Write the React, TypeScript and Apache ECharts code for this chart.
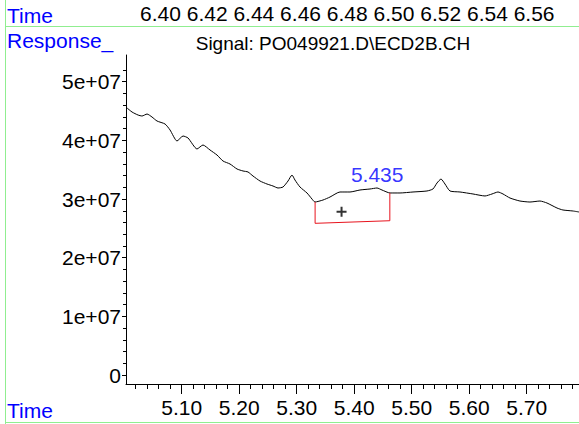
import React, { useEffect, useRef } from "react";
import * as echarts from "echarts";

// Signal trace (retention time in min, response)
const retentionTimes = [
  5.0049, 5.0136, 5.024, 5.031, 5.0397, 5.0483, 5.057, 5.071, 5.0797, 5.0918,
  5.1023, 5.111, 5.1266, 5.137, 5.1492, 5.1614, 5.1718, 5.184, 5.1962, 5.2066,
  5.2153, 5.224, 5.2362, 5.2483, 5.2588, 5.2675, 5.2762, 5.2849, 5.2918, 5.297,
  5.3057, 5.3179, 5.3266, 5.3318, 5.3457, 5.3579, 5.3753, 5.3927, 5.4101, 5.4275,
  5.4397, 5.4483, 5.4623, 5.4797, 5.5023, 5.5266, 5.537, 5.544, 5.551, 5.5579,
  5.5666, 5.584, 5.6066, 5.6275, 5.6397, 5.6501, 5.6588, 5.671, 5.6883, 5.7057,
  5.7231, 5.7353, 5.7527, 5.7631, 5.7805, 5.791,
];
const responses = [
  4.552e7, 4.483e7, 4.432e7, 4.415e7, 4.449e7, 4.398e7, 4.33e7, 4.279e7, 4.177e7, 3.989e7,
  4.074e7, 4.04e7, 3.853e7, 3.921e7, 3.836e7, 3.75e7, 3.648e7, 3.597e7, 3.512e7, 3.478e7,
  3.461e7, 3.392e7, 3.307e7, 3.256e7, 3.222e7, 3.188e7, 3.205e7, 3.307e7, 3.409e7, 3.324e7,
  3.205e7, 3.103e7, 3.0e7, 2.949e7, 2.983e7, 3.034e7, 3.12e7, 3.12e7, 3.154e7, 3.171e7,
  3.188e7, 3.154e7, 3.103e7, 3.103e7, 3.12e7, 3.137e7, 3.171e7, 3.273e7, 3.341e7, 3.256e7,
  3.137e7, 3.12e7, 3.086e7, 3.052e7, 3.086e7, 3.12e7, 3.086e7, 3.017e7, 2.966e7, 2.949e7,
  2.966e7, 2.932e7, 2.847e7, 2.813e7, 2.796e7, 2.779e7,
];

// Integration baseline box
const baselineTimes = [5.332, 5.332, 5.462, 5.462];
const baselineValues = [2.949e7, 2.586e7, 2.63e7, 3.103e7];

// Peak annotation
const peakLabel = ["5.435"];
const peakLabelTime = [5.44];
const peakLabelValue = [3.41e7];
const crossTime = [5.378];
const crossValue = [2.784e7];

// Axis ticks
const yMajorTicks = [0, 1e7, 2e7, 3e7, 4e7, 5e7];
const yMinorTicks = [
  0, 2e6, 4e6, 6e6, 8e6, 1e7, 1.2e7, 1.4e7, 1.6e7, 1.8e7, 2e7, 2.2e7, 2.4e7, 2.6e7,
  2.8e7, 3e7, 3.2e7, 3.4e7, 3.6e7, 3.8e7, 4e7, 4.2e7, 4.4e7, 4.6e7, 4.8e7, 5e7, 5.2e7,
];
const xMajorTicks = [5.1, 5.2, 5.3, 5.4, 5.5, 5.6, 5.7];
const xMinorTicks = [
  5.02, 5.04, 5.06, 5.08, 5.1, 5.12, 5.14, 5.16, 5.18, 5.2, 5.22, 5.24, 5.26, 5.28,
  5.3, 5.32, 5.34, 5.36, 5.38, 5.4, 5.42, 5.44, 5.46, 5.48, 5.5, 5.52, 5.54, 5.56,
  5.58, 5.6, 5.62, 5.64, 5.66, 5.68, 5.7, 5.72, 5.74, 5.76, 5.78,
];
const topTimeLabels = ["6.40", "6.42", "6.44", "6.46", "6.48", "6.50", "6.52", "6.54", "6.56"];
const signalTitle = "Signal: PO049921.D\\ECD2B.CH";

const FONT = '"Liberation Sans", Arial, Helvetica, sans-serif';
const BLUE = "#0000ff";
const GREEN = "#90ee90";

export default function App() {
  const ref = useRef<HTMLDivElement>(null);

  useEffect(() => {
    if (!ref.current) return;
    const chart = echarts.init(ref.current, undefined, { renderer: "svg" });

    const yMin = -1.53e6;
    const yMax = 5.455e7;
    const xMin = 5.0031;
    const xMax = 5.791;

    const commonX = { type: "value", min: xMin, max: xMax, position: "bottom", splitLine: { show: false } };
    const commonY = { type: "value", min: yMin, max: yMax, position: "left", splitLine: { show: false } };

    chart.setOption({
      animation: false,
      grid: { left: 126, top: 55, right: 0, bottom: 40, containLabel: false },
      xAxis: [
        {
          ...commonX,
          axisLine: { show: true, onZero: false, lineStyle: { color: "#000", width: 1 } },
          axisTick: { show: true, customValues: xMajorTicks, length: 10, lineStyle: { color: "#000" } },
          axisLabel: {
            show: true,
            customValues: xMajorTicks,
            formatter: (v: number) => v.toFixed(2),
            color: "#000",
            fontSize: 21,
            fontFamily: FONT,
            margin: 13,
          },
        },
        {
          ...commonX,
          axisLine: { show: false, onZero: false },
          axisTick: { show: true, customValues: xMinorTicks, length: 5, lineStyle: { color: "#000" } },
          axisLabel: { show: false },
        },
      ],
      yAxis: [
        {
          ...commonY,
          axisLine: { show: true, onZero: false, lineStyle: { color: "#000", width: 1 } },
          axisTick: { show: true, customValues: yMajorTicks, length: 4, lineStyle: { color: "#000" } },
          axisLabel: {
            show: true,
            customValues: yMajorTicks,
            formatter: (v: number) => (v === 0 ? "0" : `${Math.round(v / 1e7)}e+07`),
            color: "#000",
            fontSize: 21,
            fontFamily: FONT,
            margin: 5,
          },
        },
        {
          ...commonY,
          axisLine: { show: false, onZero: false },
          axisTick: { show: true, customValues: yMinorTicks, length: 3, lineStyle: { color: "#000" } },
          axisLabel: { show: false },
        },
      ],
      series: [
        {
          type: "line",
          silent: true,
          xAxisIndex: 0,
          yAxisIndex: 0,
          data: retentionTimes.map((t, i) => [t, responses[i]]),
          showSymbol: false,
          symbol: "none",
          smooth: 0.2,
          lineStyle: { color: "#000", width: 1 },
        },
        {
          type: "line",
          silent: true,
          xAxisIndex: 0,
          yAxisIndex: 0,
          data: baselineTimes.map((t, i) => [t, baselineValues[i]]),
          showSymbol: false,
          symbol: "none",
          lineStyle: { color: "#e8141e", width: 1 },
        },
        {
          type: "scatter",
          silent: true,
          xAxisIndex: 0,
          yAxisIndex: 0,
          data: crossTime.map((t, i) => [t, crossValue[i]]),
          symbol: "path://M0,4h10v2h-10z M4,0h2v10h-2z",
          symbolSize: 10,
          itemStyle: { color: "#000" },
        },
        {
          type: "scatter",
          silent: true,
          xAxisIndex: 0,
          yAxisIndex: 0,
          data: peakLabelTime.map((t, i) => ({ value: [t, peakLabelValue[i]], name: peakLabel[i] })),
          symbolSize: 1,
          itemStyle: { color: "rgba(0,0,0,0)" },
          label: {
            show: true,
            position: "inside",
            formatter: (p: any) => p.name,
            color: BLUE,
            fontSize: 21,
            fontFamily: FONT,
          },
        },
      ],
      graphic: [
        { type: "line", silent: true, shape: { x1: 5.5, y1: 0, x2: 5.5, y2: 424 }, style: { stroke: GREEN, lineWidth: 1 } },
        { type: "line", silent: true, shape: { x1: 5, y1: 26.5, x2: 579, y2: 26.5 }, style: { stroke: GREEN, lineWidth: 1 } },
        { type: "line", silent: true, shape: { x1: 5, y1: 422.5, x2: 579, y2: 422.5 }, style: { stroke: GREEN, lineWidth: 1 } },
        {
          type: "text", silent: true, x: 7, y: 15,
          style: { text: "Time", fill: BLUE, font: `21px ${FONT}`, verticalAlign: "middle", align: "left" },
        },
        {
          type: "text", silent: true, x: 140, y: 13,
          style: { text: topTimeLabels.join(" "), fill: "#000", font: `21px ${FONT}`, verticalAlign: "middle", align: "left" },
        },
        {
          type: "text", silent: true, x: 7, y: 40,
          style: { text: "Response_", fill: BLUE, font: `21px ${FONT}`, verticalAlign: "middle", align: "left" },
        },
        {
          type: "text", silent: true, x: 333, y: 43,
          style: { text: signalTitle, fill: "#000", font: `19px ${FONT}`, verticalAlign: "middle", align: "center" },
        },
        {
          type: "text", silent: true, x: 7, y: 410,
          style: { text: "Time", fill: BLUE, font: `21px ${FONT}`, verticalAlign: "middle", align: "left" },
        },
      ],
    });

    return () => chart.dispose();
  }, []);

  return (
    <div
      ref={ref}
      style={{ position: "fixed", left: 0, top: 0, width: 579, height: 424, background: "#fff" }}
    />
  );
}
